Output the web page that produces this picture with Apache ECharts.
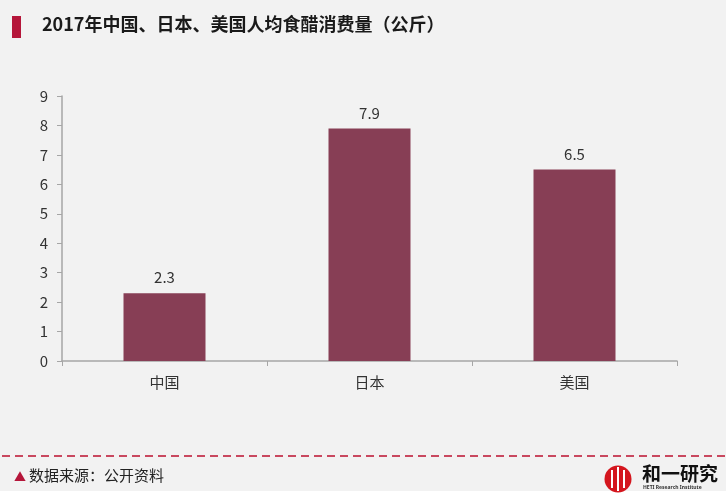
<!DOCTYPE html>
<html>
<head>
<meta charset="utf-8">
<script src="https://cdn.jsdelivr.net/npm/echarts@6/dist/echarts.min.js"></script>
<style>
  html, body { margin: 0; padding: 0; background: #fff; }
  #main { width: 726px; height: 499px; }
</style>
</head>
<body>
<div id="main"></div>
<script>
// 数据
var categories = ['中国', '日本', '美国']
var consumption = [2.3, 7.9, 6.5]
var yTicks = { min: 0, max: 9, interval: 1 }

var chart = echarts.init(document.getElementById('main'))

var option = {
    backgroundColor: '#fff',
    animation: false,
    textStyle: { fontFamily: 'Noto Sans CJK SC, Noto Sans, sans-serif' },
    graphic: [
        { type: 'rect', shape: { x: 0, y: 0, width: 726, height: 491 }, style: { fill: '#f2f2f2' }, z: -10 },
        { type: 'rect', shape: { x: 12, y: 16, width: 9, height: 22 }, style: { fill: '#b5163a' } },
        { type: 'text', left: 42, top: 15, style: { text: '2017年中国、日本、美国人均食醋消费量（公斤）', font: 'bold 18px "Noto Sans CJK SC"', fill: '#1a1a1a' } },
        { type: 'line', shape: { x1: 2, y1: 456, x2: 726, y2: 456 }, style: { stroke: '#c9485f', lineWidth: 2, lineDash: [8, 5] } },
        { type: 'text', left: 14, top: 471, style: { text: '▲', font: '12px "Noto Sans CJK SC"', fill: '#b5163a' } },
        { type: 'text', left: 29, top: 468, style: { text: '数据来源：公开资料', font: '15px "Noto Sans CJK SC"', fill: '#222' } },
        // 标志
        { type: 'circle', shape: { cx: 618, cy: 479, r: 13.5 }, style: { fill: '#d4161e' } },
        { type: 'line', shape: { x1: 612, y1: 470, x2: 612, y2: 488 }, style: { stroke: '#fff', lineWidth: 2 } },
        { type: 'line', shape: { x1: 618, y1: 467, x2: 618, y2: 491 }, style: { stroke: '#fff', lineWidth: 2 } },
        { type: 'line', shape: { x1: 624, y1: 470, x2: 624, y2: 488 }, style: { stroke: '#fff', lineWidth: 2 } },
        { type: 'text', left: 642, top: 464, style: { text: '和一研究', font: 'bold 19px "Noto Sans CJK SC"', fill: '#111' } },
        { type: 'text', left: 643, top: 485, style: { text: 'HETI Research Institute', font: 'bold 5px "Noto Sans"', fill: '#333' } }
    ],
    grid: { left: 62, right: 49, top: 96, bottom: 138 },
    xAxis: {
        type: 'category',
        data: categories,
        axisLine: { lineStyle: { color: '#a6a6a6', width: 1.5 } },
        axisTick: { show: true, alignWithLabel: false, length: 5, lineStyle: { color: '#a6a6a6' } },
        axisLabel: { color: '#333', fontSize: 15, margin: 14 }
    },
    yAxis: {
        type: 'value',
        min: yTicks.min,
        max: yTicks.max,
        interval: yTicks.interval,
        splitLine: { show: false },
        axisLine: { show: true, lineStyle: { color: '#a6a6a6', width: 1.5 } },
        axisTick: { show: true, length: 5, lineStyle: { color: '#a6a6a6' } },
        axisLabel: { color: '#333', fontSize: 15, margin: 14 }
    },
    series: [{
        type: 'bar',
        data: consumption,
        barWidth: '40%',
        itemStyle: { color: '#873e55' },
        label: { show: true, position: 'top', color: '#333', fontSize: 15, distance: 8 }
    }]
}

chart.setOption(option)
</script>
</body>
</html>
